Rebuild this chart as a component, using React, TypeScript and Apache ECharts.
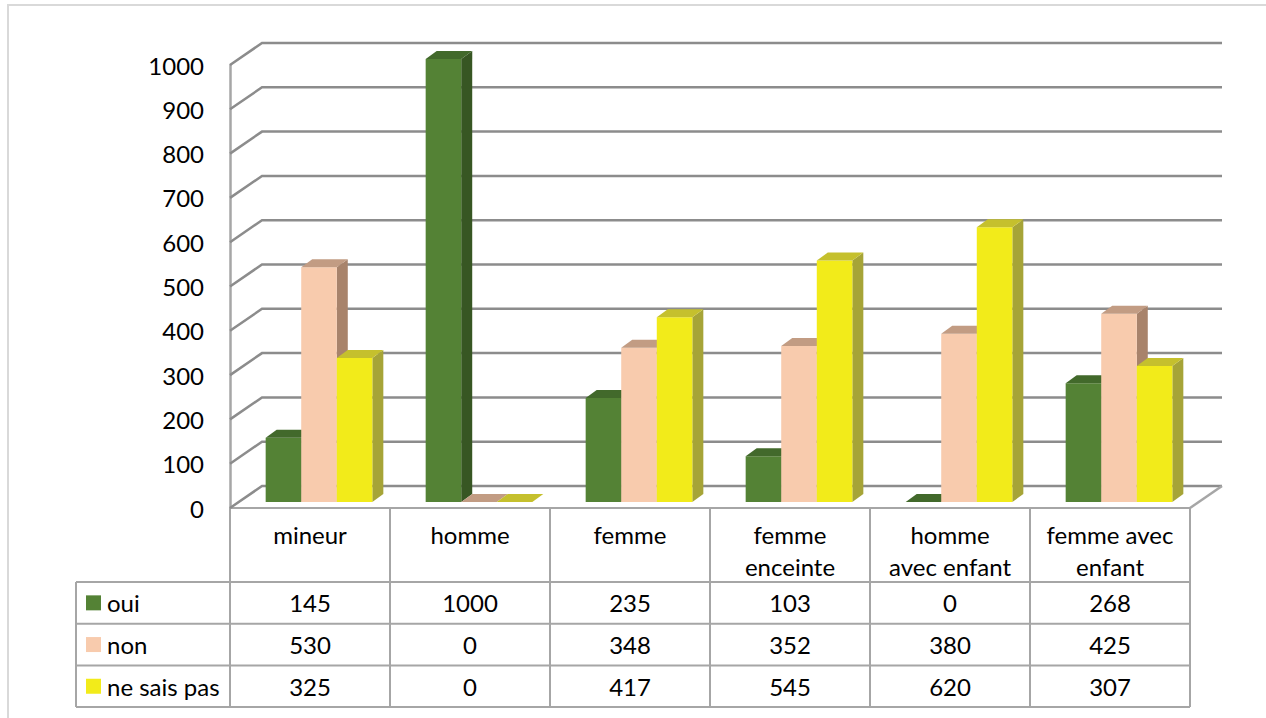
import React, { useEffect, useRef } from "react";
import * as echarts from "echarts";

// ---------- data ----------
const CATEGORIES = [
  "mineur",
  "homme",
  "femme",
  "femme\nenceinte",
  "homme\navec enfant",
  "femme avec\nenfant",
];
const SERIES_NAMES = ["oui", "non", "ne sais pas"];
const OUI = [145, 1000, 235, 103, 0, 268];
const NON = [530, 0, 348, 352, 380, 425];
const NSP = [325, 0, 417, 545, 620, 307];
const Y_TICKS = [0, 100, 200, 300, 400, 500, 600, 700, 800, 900, 1000];

// ---------- style ----------
const FONT = "Lato, 'Liberation Sans', sans-serif";
const FS = 24;
const COLORS = [
  { front: "#548235", side: "#375623", top: "#42692b" },
  { front: "#F8CBAD", side: "#A8836B", top: "#C29C83" },
  { front: "#F2EB1A", side: "#A6A437", top: "#C5C02D" },
];
const DEPTH: [number, number] = [32, -22];
const BAR_OFF: [number, number] = [9, -6];
const BAR_D: [number, number] = [11, -8];
const GAP = 1.5;
const GRID = { left: 230, right: 76, top: 65, bottom: 210 };
const W = 1266;
const H = 718;
const HEADER_BOTTOM = 582;
const ROW_H = 41.7;
const TABLE_LEFT = 76;
const GRID_COLOR = "#8c8c8c";
const TABLE_COLOR = "#a6a6a6";

export default function App() {
  const ref = useRef<HTMLDivElement>(null);
  useEffect(() => {
    if (!ref.current) return;
    const chart = echarts.init(ref.current, undefined, { renderer: "svg" });
    const values = [OUI, NON, NSP];
    const N = values.length;
    const tableRight = W - GRID.right;
    const tableBottom = HEADER_BOTTOM + ROW_H * N;

    const barSeries = values.map((vals, sIdx) => ({
      type: "custom",
      name: SERIES_NAMES[sIdx],
      z: 3,
      silent: true,
      itemStyle: { color: COLORS[sIdx].front },
      data: vals.map((v, i) => [i, v]),
      encode: { x: 0, y: 1 },
      renderItem: (params: any, api: any) => {
        const i = api.value(0);
        const v = api.value(1);
        const base = api.coord([i, 0]);
        const topP = api.coord([i, v]);
        const catW = api.size([1, 0])[0];
        const bw = catW / (N + GAP);
        const x0 = base[0] - (bw * N) / 2 + sIdx * bw + BAR_OFF[0];
        const x1 = x0 + bw;
        const yb = base[1] + BAR_OFF[1];
        const yt = topP[1] + BAR_OFF[1];
        const [dx, dy] = BAR_D;
        const c = COLORS[sIdx];
        const children: any[] = [];
        if (yb - yt > 0.5) {
          children.push({
            type: "polygon",
            shape: { points: [[x1, yt], [x1 + dx, yt + dy], [x1 + dx, yb + dy], [x1, yb]] },
            style: { fill: c.side },
          });
          children.push({
            type: "rect",
            shape: { x: x0, y: yt, width: bw, height: yb - yt },
            style: { fill: c.front },
          });
        }
        children.push({
          type: "polygon",
          shape: { points: [[x0, yt], [x1, yt], [x1 + dx, yt + dy], [x0 + dx, yt + dy]] },
          style: { fill: c.top },
        });
        return { type: "group", children };
      },
    }));

    const gridSeries = {
      type: "custom",
      z: 1,
      silent: true,
      data: Y_TICKS.map((v) => [0, v]),
      encode: { x: 0, y: 1 },
      renderItem: (params: any, api: any) => {
        const cs = params.coordSys;
        const v = api.value(1);
        const y = api.coord([0, v])[1];
        const xl = cs.x;
        const xr = cs.x + cs.width;
        const children: any[] = [
          {
            type: "polyline",
            shape: { points: [[xl, y], [xl + DEPTH[0], y + DEPTH[1]], [xr + DEPTH[0], y + DEPTH[1]]] },
            style: { stroke: GRID_COLOR, lineWidth: 2.5, fill: null },
          },
        ];
        if (v === 0) {
          children.push({
            type: "line",
            shape: { x1: xr + DEPTH[0], y1: y + DEPTH[1], x2: xr, y2: y },
            style: { stroke: TABLE_COLOR, lineWidth: 2.5 },
          });
        }
        return { type: "group", children };
      },
    };

    const tableSeries = {
      type: "custom",
      z: 2,
      silent: true,
      data: CATEGORIES.map((_, i) => [i, 0]),
      encode: { x: 0, y: 1 },
      renderItem: (params: any, api: any) => {
        const i = api.value(0);
        const x = api.coord([i, 0])[0];
        return {
          type: "group",
          children: values.map((vals, k) => ({
            type: "text",
            x,
            y: HEADER_BOTTOM + ROW_H * (k + 0.5),
            style: {
              text: String(vals[i]),
              align: "center",
              verticalAlign: "middle",
              fontSize: FS,
              fontFamily: FONT,
              fill: "#000",
            },
          })),
        };
      },
    };

    const graphics: any[] = [
      {
        type: "rect",
        shape: { x: 8, y: 5, width: W + 20, height: H + 20 },
        style: { fill: null, stroke: "#d9d9d9", lineWidth: 2 },
        silent: true,
      },
    ];
    for (let k = 0; k <= N; k++) {
      const y = HEADER_BOTTOM + ROW_H * k;
      graphics.push({
        type: "line",
        shape: { x1: TABLE_LEFT, y1: y, x2: tableRight, y2: y },
        style: { stroke: TABLE_COLOR, lineWidth: 2 },
        silent: true,
      });
    }
    graphics.push({
      type: "line",
      shape: { x1: TABLE_LEFT, y1: HEADER_BOTTOM, x2: TABLE_LEFT, y2: tableBottom },
      style: { stroke: TABLE_COLOR, lineWidth: 2 },
      silent: true,
    });
    SERIES_NAMES.forEach((name, k) => {
      const cy = HEADER_BOTTOM + ROW_H * (k + 0.5);
      graphics.push({
        type: "rect",
        shape: { x: 86, y: cy - 7.5, width: 15, height: 15 },
        style: { fill: COLORS[k].front },
        silent: true,
      });
      graphics.push({
        type: "text",
        x: 107,
        y: cy,
        style: {
          text: name,
          fontSize: FS,
          fontFamily: FONT,
          fill: "#000",
          verticalAlign: "middle",
          align: "left",
        },
        silent: true,
      });
    });

    chart.setOption({
      animation: false,
      backgroundColor: "#ffffff",
      grid: { ...GRID, containLabel: false },
      xAxis: {
        type: "category",
        data: CATEGORIES,
        boundaryGap: true,
        axisLine: { show: true, lineStyle: { color: TABLE_COLOR, width: 2 } },
        axisTick: {
          show: true,
          interval: 0,
          length: tableBottom - (H - GRID.bottom),
          lineStyle: { color: TABLE_COLOR, width: 2 },
        },
        axisLabel: {
          interval: 0,
          margin: 10,
          fontSize: FS,
          fontFamily: FONT,
          color: "#000",
          lineHeight: 32,
        },
        splitLine: { show: false },
      },
      yAxis: {
        type: "value",
        min: 0,
        max: 1000,
        interval: 100,
        axisLine: { show: true, lineStyle: { color: TABLE_COLOR, width: 2.5 } },
        axisTick: { show: false },
        splitLine: { show: false },
        axisLabel: {
          margin: 26,
          fontSize: FS,
          fontFamily: FONT,
          color: "#000",
          formatter: (v: number) => String(v),
        },
      },
      graphic: graphics,
      series: [gridSeries, ...barSeries, tableSeries],
    });
    return () => chart.dispose();
  }, []);
  return (
    <div
      ref={ref}
      style={{ position: "absolute", left: 0, top: 0, width: W, height: H }}
    />
  );
}
